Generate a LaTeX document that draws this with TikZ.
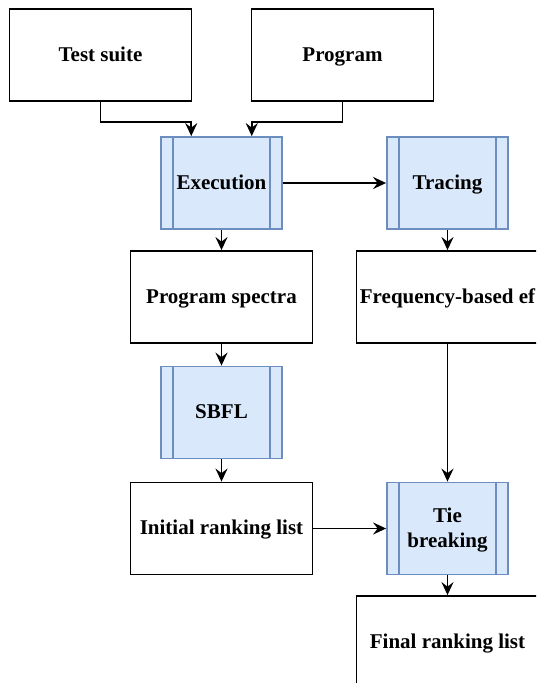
\documentclass[tikz,border=0pt]{standalone}
\usepackage{fontspec}
\setmainfont{Liberation Serif}
\usetikzlibrary{arrows.meta}

\definecolor{procfill}{HTML}{DAE8FC}
\definecolor{procline}{HTML}{6C8EBF}

\tikzset{
  box/.style={rectangle, draw, line width=1.8pt, minimum width=182pt, minimum height=92pt,
    inner sep=0pt, align=center, text height=14pt, text depth=2pt,
    font=\bfseries\fontsize{21}{25}\selectfont},
  subproc/.style={box, draw=procline, fill=procfill, minimum width=121pt,
    path picture={
      \draw[procline, line width=1.8pt]
        ([xshift=12pt]path picture bounding box.north west) -- ([xshift=12pt]path picture bounding box.south west)
        ([xshift=-12pt]path picture bounding box.north east) -- ([xshift=-12pt]path picture bounding box.south east);
    }},
  arr/.style={line width=1.8pt, -{Stealth[length=13pt, width=12pt, inset=4.5pt]}}
}

\begin{document}
\begin{tikzpicture}[x=1pt, y=-1pt]
  \useasboundingbox (0,0) rectangle (536,683);
  \clip (0,0) rectangle (536,683);

  % Inputs
  \node[box] (suite) at (100.5,55) {Test suite};
  \node[box] (program) at (342.5,55) {Program};

  % Left column
  \node[subproc] (exec) at (221.5,183) {Execution};
  \node[box] (spectra) at (221.5,297) {Program spectra};
  \node[subproc] (sbfl) at (221.5,412.5) {SBFL};
  \node[box] (initial) at (221.5,528.5) {Initial ranking list};

  % Right column
  \node[subproc] (trace) at (447.5,183) {Tracing};
  \node[box] (freq) at (447.5,297) {Frequency-based ef};
  \node[subproc, text height=39pt] (tie) at (447.5,528.5) {Tie\\breaking};
  \node[box] (final) at (447.5,642) {Final ranking list};

  % Connect nodes
  \draw[arr] (suite.south) -- ++(0,20) -| ([xshift=-30.25pt]exec.north);
  \draw[arr] (program.south) -- ++(0,20) -| ([xshift=30.25pt]exec.north);
  \draw[arr] (exec) -- (trace);
  \draw[arr] (exec) -- (spectra);
  \draw[arr] (spectra) -- (sbfl);
  \draw[arr] (sbfl) -- (initial);
  \draw[arr] (trace) -- (freq);
  \draw[arr] (freq) -- (tie);
  \draw[arr] (initial) -- (tie);
  \draw[arr] (tie) -- (final);
\end{tikzpicture}
\end{document}
